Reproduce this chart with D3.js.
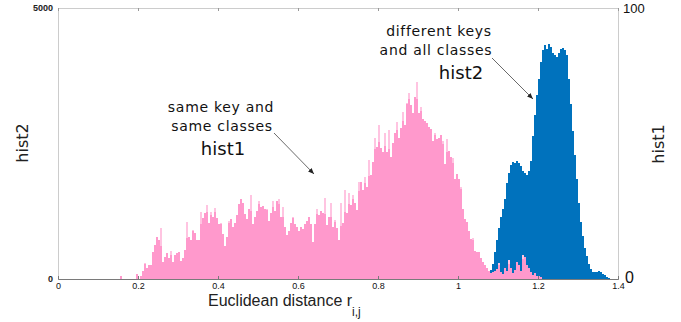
<!DOCTYPE html>
<html>
<head>
<meta charset="utf-8">
<script src="https://cdn.jsdelivr.net/npm/d3@7"></script>
<style>
  body { margin: 0; background: #fff; }
  svg { display: block; font-family: "DejaVu Sans", "Noto Sans", sans-serif; }
</style>
</head>
<body>
<svg id="chart" width="681" height="322"></svg>
<script>
// bin width shared by both histograms
const binWidth = 0.005;

// hist1: same key and same classes (right axis, 0-100), bins start at 0.15
const hist1Start = 0.15;
const hist1Values = [
  0, 1.1, 0, 0, 0, 0, 0, 0, 0, 1.8,
  0, 1.1, 3.0, 5.9, 4.1, 5.2, 5.2, 10.0, 12.5, 15.5,
  14.4, 18.8, 6.3, 8.1, 9.6, 7.7, 10.3, 6.3, 8.9, 9.6,
  10.0, 6.6, 7.7, 10.7, 21.0, 15.5, 14.4, 18.1, 17.0, 14.4,
  14.4, 24.7, 22.5, 24.4, 27.3, 20.7, 24.7, 22.9, 26.2, 22.5,
  20.3, 20.7, 16.6, 12.2, 15.5, 21.4, 22.1, 19.2, 20.7, 23.6,
  27.7, 29.5, 28.0, 24.0, 22.1, 25.8, 31.0, 20.3, 22.9, 25.1,
  28.8, 26.6, 26.9, 25.8, 25.8, 21.4, 24.4, 28.8, 25.1, 28.8,
  29.5, 22.9, 26.6, 19.2, 16.2, 17.7, 20.7, 22.9, 20.3, 19.2,
  17.7, 19.2, 18.5, 20.3, 21.4, 22.9, 20.3, 13.7, 20.3, 25.8,
  23.6, 25.1, 24.4, 29.9, 19.9, 22.9, 28.0, 19.2, 21.8, 18.8,
  14.4, 28.0, 20.7, 32.8, 24.4, 31.7, 27.3, 31.0, 28.0, 25.5,
  35.8, 35.8, 32.8, 37.6, 33.9, 43.9, 38.4, 43.2, 52.0, 48.7,
  56.8, 48.3, 46.9, 53.9, 46.9, 55.0, 45.0, 50.2, 53.9, 57.9,
  52.0, 55.7, 61.6, 56.8, 64.9, 68.6, 64.2, 61.3, 67.2, 72.7,
  61.3, 63.5, 59.0, 58.3, 57.6, 56.1, 55.4, 50.9, 53.9, 51.7,
  52.0, 53.1, 50.9, 42.4, 51.7, 47.2, 45.0, 44.6, 36.9, 38.7,
  36.9, 33.9, 25.8, 22.1, 21.0, 17.7, 14.8, 15.1, 10.3, 10.0,
  10.0, 7.7, 6.3, 5.2, 4.1, 3.0, 2.2, 2.6, 3.0, 3.7,
  5.9, 2.6, 1.8, 4.1, 3.0, 7.0, 4.1, 2.2, 3.3, 6.3,
  5.2, 3.0, 8.9, 8.1, 5.2, 4.1, 2.6, 1.5, 2.2, 1.1,
  1.1, 0.7
];

// hist2: different keys and all classes (left axis, 0-5000), bins start at 1.075
const hist2Start = 1.075;
const hist2Values = [
  55, 166, 277, 498, 720, 941, 1144, 1292, 1476, 1771,
  1956, 2103, 2159, 2140, 2177, 2140, 2085, 1993, 1956, 1919,
  1993, 2177, 2638, 3026, 3395, 3690, 4004, 4225, 4317, 4244,
  4336, 4280, 4170, 4133, 4096, 4170, 4244, 4262, 4225, 4133,
  3690, 3229, 2731, 2288, 1845, 1402, 1052, 793, 572, 424,
  277, 185, 129, 129, 129, 148, 129, 92, 74, 37,
  18, 9
];

const xTicks = [0, 0.2, 0.4, 0.6, 0.8, 1, 1.2, 1.4];
const xTickLabels = ["0", "0.2", "0.4", "0.6", "0.8", "1", "1.2", "1.4"];
const leftTicks = [0, 5000];
const rightTicks = [0, 100];

const svg = d3.select("#chart");
const plotLeft = 58, plotRight = 618, plotTop = 8, plotBottom = 279;

const x = d3.scaleLinear().domain([0, 1.4]).range([plotLeft, plotRight]);
const yLeft = d3.scaleLinear().domain([0, 5000]).range([plotBottom, plotTop]);
const yRight = d3.scaleLinear().domain([0, 100]).range([plotBottom, plotTop]);

const pink = "#ff99cc", pinkLight = "#ffc4e1", blue = "#0072bd";
const tickFont = "Liberation Sans, Arial, sans-serif";

const hist2 = hist2Values.map((v, i) => ({ x0: hist2Start + i * binWidth, v }));
const hist1 = hist1Values.map((v, i) => {
  const prev = i > 0 ? hist1Values[i - 1] : 0;
  const next = i < hist1Values.length - 1 ? hist1Values[i + 1] : 0;
  return { x0: hist1Start + i * binWidth, v, body: Math.min(v, (prev + next) / 2 + 2) };
});

// hist2 bars (drawn first)
svg.append("g")
  .attr("shape-rendering", "crispEdges")
  .selectAll("rect")
  .data(hist2)
  .join("rect")
  .attr("x", d => x(d.x0))
  .attr("width", d => x(d.x0 + binWidth) - x(d.x0))
  .attr("y", d => yLeft(d.v))
  .attr("height", d => plotBottom - yLeft(d.v))
  .attr("fill", blue);

// hist1 bars: lighter tips above neighbours, pink body
const h1 = svg.append("g").attr("shape-rendering", "crispEdges");
h1.selectAll("rect.tip")
  .data(hist1.filter(d => d.v > 0))
  .join("rect")
  .attr("class", "tip")
  .attr("x", d => x(d.x0))
  .attr("width", d => x(d.x0 + binWidth) - x(d.x0))
  .attr("y", d => yRight(d.v))
  .attr("height", d => plotBottom - yRight(d.v))
  .attr("fill", pinkLight);
h1.selectAll("rect.body")
  .data(hist1.filter(d => d.body > 0))
  .join("rect")
  .attr("class", "body")
  .attr("x", d => x(d.x0))
  .attr("width", d => x(d.x0 + binWidth) - x(d.x0))
  .attr("y", d => yRight(d.body))
  .attr("height", d => plotBottom - yRight(d.body))
  .attr("fill", pink);

// frame
svg.append("rect")
  .attr("x", plotLeft).attr("y", plotTop)
  .attr("width", plotRight - plotLeft).attr("height", plotBottom - plotTop)
  .attr("fill", "none").attr("stroke", "#cccccc").attr("stroke-width", 1)
  .attr("shape-rendering", "crispEdges");

// axes
const xAxis = svg.append("g")
  .attr("transform", `translate(0,${plotBottom})`)
  .call(d3.axisBottom(x).tickValues(xTicks).tickFormat((d, i) => xTickLabels[i]).tickSize(-3).tickPadding(4));
xAxis.select(".domain").attr("stroke", "#7a7a7a");
xAxis.selectAll(".tick line").attr("stroke", "#7a7a7a");
xAxis.selectAll("text").attr("font-family", tickFont).attr("font-size", 9).attr("fill", "#111");

const xTop = svg.append("g")
  .attr("transform", `translate(0,${plotTop})`)
  .call(d3.axisTop(x).tickValues(xTicks).tickFormat("").tickSize(-3));
xTop.select(".domain").remove();
xTop.selectAll(".tick line").attr("stroke", "#999");

const lAxis = svg.append("g")
  .attr("transform", `translate(${plotLeft},0)`)
  .call(d3.axisLeft(yLeft).tickValues(leftTicks).tickFormat(d3.format("d")).tickSize(0).tickPadding(5));
lAxis.select(".domain").remove();
lAxis.selectAll("text").attr("font-family", tickFont).attr("font-size", 9).attr("font-weight", "bold").attr("fill", "#222");

const rAxis = svg.append("g")
  .attr("transform", `translate(${plotRight},0)`)
  .call(d3.axisRight(yRight).tickValues(rightTicks).tickSize(0).tickPadding(5));
rAxis.select(".domain").remove();
rAxis.selectAll("text").attr("font-family", tickFont).attr("fill", "#111")
  .attr("font-size", d => d === 0 ? 16 : 13)
  .attr("x", d => d === 0 ? 7 : 5)
  .attr("dy", d => d === 0 ? "0.2em" : "0.32em");

// axis titles
svg.append("text")
  .attr("transform", `translate(28,143) rotate(-90)`)
  .attr("text-anchor", "middle")
  .attr("font-size", 16).attr("fill", "#222")
  .text("hist2");
svg.append("text")
  .attr("transform", `translate(664,144) rotate(-90)`)
  .attr("text-anchor", "middle")
  .attr("font-size", 16).attr("fill", "#222")
  .text("hist1");

const xTitle = svg.append("text")
  .attr("x", 208).attr("y", 306)
  .attr("font-family", tickFont)
  .attr("font-size", 16).attr("fill", "#222");
xTitle.append("tspan").text("Euclidean distance r");
xTitle.append("tspan").attr("dy", 10).attr("font-size", 12).text("i,j");

// annotations
const ann = svg.append("g").attr("fill", "#111").attr("text-anchor", "middle");
ann.append("text").attr("x", 221).attr("y", 112).attr("font-size", 14).attr("letter-spacing", 0.7).text("same key and");
ann.append("text").attr("x", 222).attr("y", 131).attr("font-size", 14).attr("letter-spacing", 0.7).text("same classes");
ann.append("text").attr("x", 223).attr("y", 155).attr("font-size", 18).text("hist1");
ann.append("text").attr("x", 439).attr("y", 36).attr("font-size", 14).attr("letter-spacing", 0.7).text("different keys");
ann.append("text").attr("x", 436).attr("y", 55).attr("font-size", 14).attr("letter-spacing", 0.7).text("and all classes");
ann.append("text").attr("x", 461).attr("y", 79).attr("font-size", 18).text("hist2");

svg.append("defs").append("marker")
  .attr("id", "arrow")
  .attr("viewBox", "0 -5 10 10")
  .attr("refX", 10).attr("refY", 0)
  .attr("markerWidth", 6).attr("markerHeight", 6)
  .attr("markerUnits", "userSpaceOnUse")
  .attr("orient", "auto")
  .append("path")
  .attr("d", "M0,-4L10,0L0,4Z")
  .attr("fill", "#222");

const arrows = [
  { x1: 274, y1: 133, x2: 314, y2: 174 },
  { x1: 492, y1: 58, x2: 533, y2: 99 }
];
svg.append("g").selectAll("line")
  .data(arrows)
  .join("line")
  .attr("x1", d => d.x1).attr("y1", d => d.y1)
  .attr("x2", d => d.x2).attr("y2", d => d.y2)
  .attr("stroke", "#444").attr("stroke-width", 0.8)
  .attr("marker-end", "url(#arrow)");
</script>
</body>
</html>
